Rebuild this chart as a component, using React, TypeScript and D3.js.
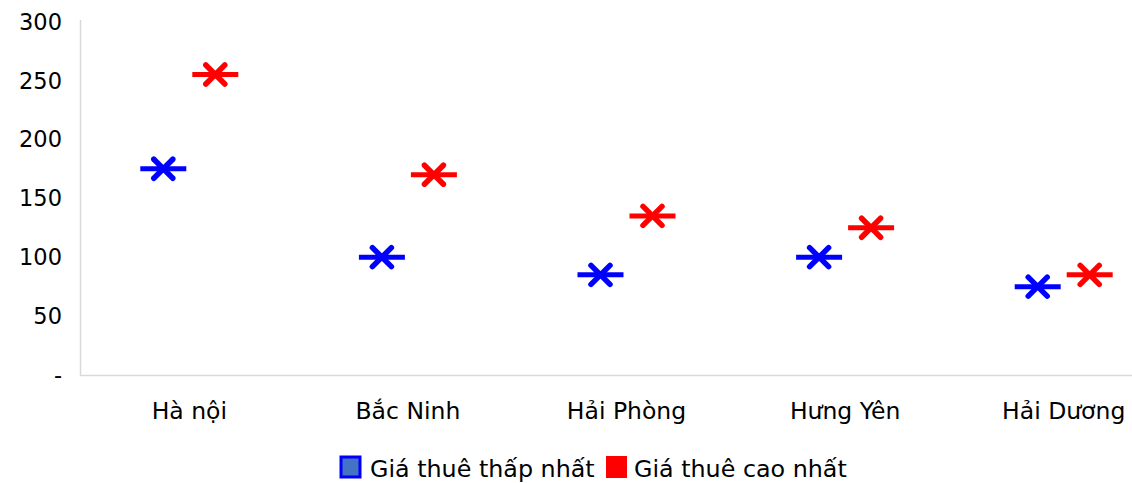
import React from "react";
import * as d3 from "d3";

const categories = ["Hà nội", "Bắc Ninh", "Hải Phòng", "Hưng Yên", "Hải Dương"];
const lowValues = [175, 100, 85, 100, 75];
const highValues = [255, 170, 135, 125, 85];
const yTicks = [0, 50, 100, 150, 200, 250, 300];
const seriesNames = ["Giá thuê thấp nhất", "Giá thuê cao nhất"];

const W = 1132;
const H = 483;
const FONT = "'DejaVu Sans', Verdana, sans-serif";

function Marker({ x, y, color }: { x: number; y: number; color: string }) {
  const a = 9.5;
  return (
    <g stroke={color} strokeLinecap="round" fill="none">
      <line x1={x - 23} x2={x + 23} y1={y} y2={y} strokeWidth={5} strokeLinecap="butt" />
      <line x1={x - a} y1={y - a} x2={x + a} y2={y + a} strokeWidth={5.5} />
      <line x1={x - a} y1={y + a} x2={x + a} y2={y - a} strokeWidth={5.5} />
    </g>
  );
}

export default function App() {
  const y = d3.scaleLinear().domain([0, 300]).range([375, 21.5]);
  const x = d3.scaleBand<string>().domain(categories).range([80, 1173]).padding(0);
  const off = 26;
  return (
    <svg
      width={W}
      height={H}
      style={{ position: "absolute", left: 0, top: 0, background: "#fff" }}
      fontFamily={FONT}
    >
      <line x1={80.5} x2={80.5} y1={20} y2={375.5} stroke="#d9d9d9" strokeWidth={1.5} />
      <line x1={80} x2={W} y1={375.5} y2={375.5} stroke="#d9d9d9" strokeWidth={1.5} />
      {yTicks.map((t) => (
        <text key={t} x={62} y={y(t)} dy="0.36em" textAnchor="end" fontSize={22.5} fill="#000">
          {t === 0 ? "-" : d3.format("d")(t)}
        </text>
      ))}
      {categories.map((c) => (
        <text key={c} x={x(c)! + x.bandwidth() / 2} y={419} textAnchor="middle" fontSize={23.5} fill="#000">
          {c}
        </text>
      ))}
      {categories.map((c, i) => (
        <g key={c}>
          <Marker x={x(c)! + x.bandwidth() / 2 - off} y={y(lowValues[i])} color="#0000ff" />
          <Marker x={x(c)! + x.bandwidth() / 2 + off} y={y(highValues[i])} color="#ff0000" />
        </g>
      ))}
      <g>
        <rect x={341} y={457} width={19} height={20} fill="#4472c4" stroke="#0000ff" strokeWidth={3} />
        <text x={370} y={477} fontSize={23.8} fill="#000">{seriesNames[0]}</text>
        <rect x={606} y={456} width={21} height={22} fill="#ff0000" />
        <text x={634} y={477} fontSize={23.8} fill="#000">{seriesNames[1]}</text>
      </g>
    </svg>
  );
}
